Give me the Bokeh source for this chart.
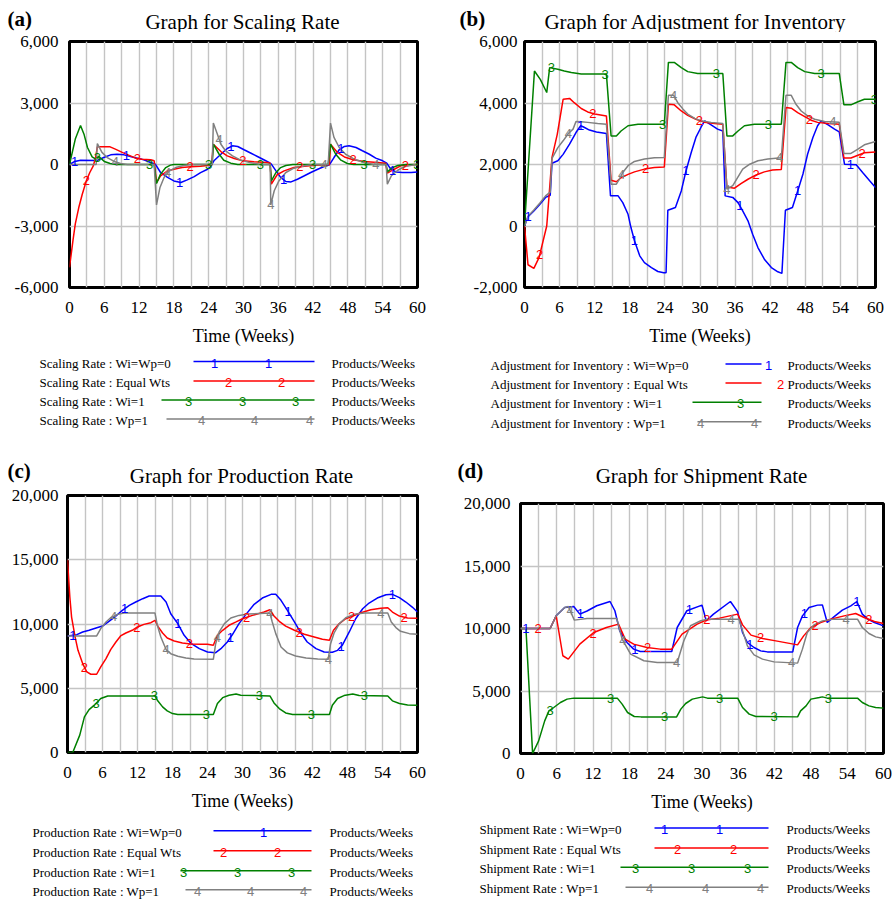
import numpy as np
from bokeh.plotting import figure
from bokeh.layouts import column, row
from bokeh.models import Range1d, FixedTicker, NumeralTickFormatter
from bokeh.core.properties import value
from bokeh.embed import file_html
from bokeh.resources import INLINE

# ---------------- data ----------------
SCENARIOS = ["Wi=Wp=0", "Equal Wts", "Wi=1", "Wp=1"]
MARK_LABELS = ["1", "2", "3", "4"]
UNIT = "Products/Weeks"
X_TICKS = [0, 6, 12, 18, 24, 30, 36, 42, 48, 54, 60]
X_GRID = [3, 6, 9, 12, 15, 18, 21, 24, 27, 30, 33, 36, 39, 42, 45, 48, 51, 54, 57]

# (a) Scaling Rate
SR_Y_TICKS = [-6000, -3000, 0, 3000, 6000]
SR_T1 = [0, 0.9, 1.9, 4.8, 5.9, 7.1, 8.2, 9.4, 10.5, 11.7, 12.8, 14.0, 14.8, 15.7, 16.9, 18.0, 19.2, 20.3, 21.5, 22.6, 23.8, 24.3, 24.9, 26.1, 27.2, 28.1, 29.0, 30.1, 31.3, 32.4, 33.5, 34.4, 34.8, 35.6, 36.4, 37.3, 38.2, 39.3, 40.5, 41.6, 42.8, 43.9, 44.8, 45.6, 46.5, 47.4, 48.2, 49.4, 50.5, 51.7, 52.8, 54.0, 54.7, 55.4, 56.3, 57.4, 58.9, 60.0]
SR_V1 = [0, 150, 210, 200, 340, 470, 500, 470, 390, 310, 230, 100, 15, -390, -630, -800, -880, -750, -590, -400, -230, -110, 180, 500, 780, 910, 880, 720, 550, 390, 230, 100, 15, -310, -630, -830, -850, -720, -550, -390, -230, -100, -15, 340, 720, 880, 910, 830, 670, 500, 310, 180, 65, -230, -360, -390, -390, -360]
SR_T2 = [0, 0.6, 1.0, 1.6, 2.2, 2.9, 3.5, 4.1, 4.5, 4.8, 7.0, 7.9, 9.1, 10.2, 11.4, 12.5, 14.0, 14.6, 15.0, 15.7, 16.9, 18.0, 19.4, 20.9, 22.6, 23.8, 24.5, 24.8, 26.1, 27.2, 28.4, 29.9, 31.8, 34.1, 34.6, 34.8, 35.8, 37.0, 38.7, 40.5, 42.8, 44.8, 45.0, 46.2, 47.4, 48.9, 50.8, 53.1, 54.5, 54.8, 56.0, 57.1, 58.6, 60.0]
SR_V2 = [-5020, -3700, -2900, -2100, -1450, -800, -390, -65, 340, 860, 860, 750, 590, 455, 310, 260, 230, 180, -880, -550, -310, -230, -150, -110, -80, -50, -30, 990, 630, 420, 290, 180, 130, 100, 65, -960, -500, -310, -150, -80, -30, -15, 990, 590, 370, 230, 150, 100, 65, -420, -230, -65, -15, 0]
SR_T3 = [0, 1.0, 1.9, 2.5, 3.1, 3.9, 4.6, 5.0, 6.0, 7.0, 8.0, 14.6, 15.0, 15.7, 16.6, 17.4, 18.0, 24.6, 24.8, 25.8, 26.6, 27.8, 29.0, 34.6, 34.8, 35.6, 36.4, 37.3, 38.5, 44.6, 45.0, 45.9, 46.8, 47.9, 49.0, 54.6, 54.8, 55.7, 56.6, 58.0, 60.0]
SR_V3 = [0, 1240, 1900, 1480, 830, 370, 250, 400, 150, 50, 0, 0, -930, -470, -150, -30, 0, 0, 990, 500, 210, 65, 0, 0, -800, -390, -150, -50, 0, 0, 990, 500, 210, 50, 0, 0, -360, -150, -50, 0, 0]
SR_T4 = [0, 4.6, 4.8, 5.6, 6.5, 7.7, 8.8, 10.0, 14.6, 15.0, 15.6, 16.3, 17.1, 18.3, 19.7, 21.0, 24.6, 24.8, 25.5, 26.1, 26.9, 28.1, 29.5, 31.3, 33.0, 34.6, 34.7, 35.3, 36.1, 37.3, 38.7, 40.5, 42.0, 44.6, 45.0, 45.6, 46.5, 47.6, 49.1, 50.8, 52.5, 54.6, 54.8, 55.5, 56.6, 57.7, 59.2, 60.0]
SR_V4 = [0, 0, 1020, 590, 340, 150, 50, 0, 0, -1970, -1120, -630, -340, -150, -50, 0, 0, 2020, 1480, 990, 670, 420, 210, 80, 0, 0, -1970, -1280, -800, -390, -180, -65, 0, 0, 2020, 1320, 830, 500, 260, 100, 0, 0, -960, -550, -280, -110, -30, 0]
SR_M1 = [0.9, 9.8, 19.0, 27.8, 36.9, 46.8, 55.7]
SR_M2 = [2.9, 11.7, 20.8, 29.9, 39.7, 48.9, 57.9]
SR_M3 = [4.8, 13.8, 24.0, 32.9, 41.9, 50.8, 59.9]
SR_M4 = [7.9, 16.9, 25.8, 34.7, 43.9, 52.8]

# (b) Adjustment for Inventory
AI_Y_TICKS = [-2000, 0, 2000, 4000, 6000]
AI_T1 = [0, 0.6, 1.6, 2.6, 3.6, 4.4, 4.7, 5.7, 6.6, 7.7, 8.8, 9.6, 10.1, 11.1, 12.3, 14.0, 14.7, 16.0, 16.8, 17.7, 18.2, 18.8, 19.7, 20.5, 21.7, 22.8, 23.8, 24.2, 24.5, 25.8, 26.8, 27.6, 28.5, 29.3, 30.2, 30.8, 31.9, 33.0, 33.9, 34.3, 35.6, 36.5, 37.3, 38.2, 39.0, 39.9, 41.0, 42.2, 43.3, 44.0, 44.6, 45.8, 46.7, 47.6, 48.4, 49.3, 50.1, 50.7, 51.9, 53.0, 53.8, 54.7, 56.7, 57.8, 59.0, 60.0]
AI_V1 = [0, 300, 490, 700, 930, 1000, 2040, 2120, 2330, 2660, 3040, 3260, 3220, 3120, 3060, 3010, 980, 980, 760, 380, -50, -480, -970, -1190, -1350, -1480, -1520, -1520, 510, 600, 1140, 1790, 2390, 2880, 3220, 3420, 3290, 3150, 3090, 980, 930, 760, 490, 170, -270, -700, -1080, -1350, -1490, -1540, 510, 600, 1140, 1690, 2340, 2880, 3260, 3420, 3290, 3150, 3060, 2010, 1990, 1740, 1470, 1250]
AI_T2 = [0, 0.6, 1.6, 2.5, 3.8, 4.7, 5.6, 6.6, 7.7, 8.5, 9.7, 10.8, 12.0, 14.0, 14.8, 15.7, 16.5, 17.7, 18.8, 20.5, 22.2, 23.9, 24.6, 25.6, 26.8, 27.9, 29.3, 30.8, 32.5, 33.9, 34.6, 35.9, 37.0, 38.2, 39.6, 41.0, 42.4, 43.9, 44.7, 45.6, 46.7, 47.9, 49.0, 50.1, 51.9, 53.8, 54.6, 55.8, 57.0, 58.1, 60.0]
AI_V2 = [0, -1260, -1380, -1020, 0, 2230, 2980, 4120, 4150, 4010, 3820, 3710, 3640, 3580, 1490, 1440, 1570, 1680, 1760, 1850, 1900, 1920, 3960, 3940, 3740, 3600, 3470, 3370, 3330, 3310, 1270, 1230, 1380, 1520, 1660, 1760, 1820, 1840, 3850, 3830, 3690, 3560, 3440, 3370, 3330, 3310, 2210, 2210, 2300, 2380, 2410]
AI_T3 = [0, 1.7, 2.7, 3.8, 4.3, 5.7, 6.8, 8.0, 9.7, 14.0, 14.8, 15.7, 16.5, 17.7, 19.4, 23.9, 24.6, 25.6, 26.8, 27.9, 29.6, 33.9, 34.6, 35.6, 36.5, 37.6, 39.3, 43.9, 44.7, 45.6, 46.7, 47.9, 49.6, 53.8, 54.6, 55.8, 57.0, 58.1, 60.0]
AI_V3 = [0, 5040, 4770, 4340, 5150, 5100, 5040, 4990, 4940, 4940, 2930, 2930, 3090, 3260, 3310, 3310, 5320, 5320, 5150, 5020, 4960, 4960, 2930, 2930, 3090, 3260, 3310, 3310, 5320, 5320, 5150, 5020, 4960, 4960, 3940, 3940, 4040, 4120, 4120]
AI_T4 = [0, 0.6, 1.6, 2.6, 3.6, 4.4, 4.7, 5.7, 6.6, 7.5, 8.3, 8.8, 9.7, 10.8, 12.5, 14.0, 14.8, 15.7, 16.2, 16.8, 17.7, 18.8, 20.5, 22.2, 23.9, 24.6, 25.5, 26.2, 27.1, 27.9, 29.1, 30.2, 31.9, 33.9, 34.6, 35.6, 36.5, 37.3, 38.5, 39.9, 41.6, 43.9, 44.7, 45.6, 46.4, 47.3, 48.4, 49.6, 51.3, 53.8, 54.6, 55.8, 57.0, 58.1, 60.0]
AI_V4 = [0, 320, 520, 740, 980, 1100, 2200, 2550, 2770, 3010, 3150, 3400, 3390, 3370, 3330, 3310, 1360, 1360, 1520, 1740, 1960, 2100, 2180, 2220, 2230, 4250, 4250, 4010, 3800, 3640, 3500, 3420, 3370, 3330, 1200, 1310, 1600, 1850, 2010, 2120, 2180, 2220, 4250, 4250, 3960, 3740, 3580, 3470, 3400, 3370, 2360, 2360, 2500, 2640, 2750]
AI_M1 = [0.6, 9.6, 18.8, 27.6, 36.8, 46.7, 55.7]
AI_M2 = [2.6, 11.7, 20.7, 29.9, 39.6, 48.7, 57.7]
AI_M3 = [4.6, 13.8, 23.6, 32.8, 41.7, 50.7, 59.8]
AI_M4 = [7.5, 16.6, 25.5, 34.6, 43.6, 52.7]

# (c) Production Rate
PR_Y_TICKS = [0, 5000, 10000, 15000, 20000]
PR_T1 = [0, 1.6, 2.6, 3.7, 4.9, 6.0, 7.1, 8.3, 9.4, 10.6, 11.7, 12.9, 14.0, 16.0, 16.9, 17.7, 18.9, 20.0, 21.1, 22.6, 24.0, 25.4, 26.3, 27.4, 28.3, 29.4, 30.6, 32.0, 33.4, 34.9, 35.7, 36.6, 37.7, 38.9, 40.0, 41.1, 42.6, 44.0, 45.4, 46.3, 47.1, 48.3, 49.4, 50.6, 51.7, 53.1, 54.6, 55.7, 56.9, 58.0, 59.1, 60.0]
PR_V1 = [9070, 9170, 9380, 9510, 9690, 9840, 10210, 10620, 11060, 11450, 11710, 11970, 12180, 12180, 11710, 10800, 10030, 9120, 8520, 8080, 7820, 7770, 8080, 8600, 9200, 10030, 10750, 11530, 12020, 12310, 12310, 11840, 11060, 10160, 9300, 8600, 8080, 7820, 7800, 7950, 8340, 9380, 10410, 11190, 11630, 12020, 12280, 12310, 12050, 11710, 11320, 10930]
PR_T2 = [0, 0.4, 0.7, 1.3, 1.8, 2.6, 3.3, 4.0, 5.0, 5.7, 6.6, 7.4, 8.3, 9.1, 10.0, 11.1, 12.0, 13.1, 14.3, 15.0, 15.5, 16.3, 17.1, 18.3, 19.7, 21.1, 22.9, 24.0, 25.0, 25.7, 26.6, 27.7, 28.9, 30.0, 31.7, 33.7, 34.7, 35.4, 36.3, 37.4, 38.9, 40.6, 42.3, 43.7, 44.9, 45.6, 46.6, 47.7, 48.9, 50.3, 52.0, 53.7, 54.9, 55.7, 56.9, 58.3, 60.0]
PR_V2 = [15000, 12100, 10540, 9000, 7950, 6920, 6270, 6090, 6090, 6660, 7310, 8010, 8600, 9070, 9300, 9510, 9770, 9970, 10100, 10290, 9820, 9300, 8910, 8680, 8520, 8450, 8420, 8420, 8340, 9120, 9510, 9900, 10160, 10410, 10670, 10930, 11110, 10620, 10210, 9840, 9510, 9200, 8990, 8810, 8730, 9510, 10030, 10410, 10620, 10880, 11110, 11220, 11270, 10930, 10620, 10470, 10440]
PR_T3 = [0, 0.9, 2.1, 2.9, 3.7, 4.7, 5.7, 6.9, 15.0, 15.4, 16.3, 17.1, 18.0, 18.9, 25.0, 25.7, 26.6, 27.7, 28.9, 29.7, 34.7, 35.4, 36.3, 37.4, 38.6, 44.9, 45.4, 46.3, 47.4, 48.9, 50.0, 54.9, 55.7, 56.9, 58.3, 60.0]
PR_V3 = [0, 0, 1350, 2770, 3340, 3730, 4200, 4400, 4400, 4070, 3550, 3240, 3030, 2950, 2950, 3810, 4270, 4460, 4560, 4460, 4400, 3860, 3420, 3080, 2950, 2950, 3680, 4200, 4430, 4560, 4430, 4400, 4020, 3810, 3700, 3680]
PR_T4 = [0, 5.0, 5.7, 6.6, 7.4, 8.6, 9.7, 15.0, 15.4, 16.0, 16.9, 17.7, 18.9, 20.3, 21.7, 25.0, 25.4, 26.0, 26.9, 28.0, 29.4, 30.9, 34.7, 35.1, 35.7, 36.6, 37.7, 39.1, 40.9, 42.9, 44.7, 45.1, 45.7, 46.6, 47.7, 49.1, 50.9, 54.9, 55.5, 56.3, 57.1, 58.6, 60.0]
PR_V4 = [9070, 9070, 9640, 10160, 10490, 10750, 10850, 10850, 9900, 8990, 8010, 7690, 7490, 7360, 7280, 7250, 8470, 9380, 10030, 10470, 10670, 10780, 10850, 10160, 9250, 8210, 7750, 7510, 7360, 7280, 7250, 8470, 9300, 10030, 10490, 10750, 10850, 10850, 10160, 9720, 9430, 9250, 9200]
PR_M1 = [0.9, 9.8, 18.9, 27.9, 37.8, 46.9, 55.7]
PR_M2 = [2.9, 11.9, 20.9, 30.7, 39.7, 48.7, 57.7]
PR_M3 = [4.9, 14.9, 23.8, 32.9, 41.8, 50.9]
PR_M4 = [7.9, 16.9, 25.7, 34.7, 44.7, 53.7]

# (d) Shipment Rate
SH_Y_TICKS = [0, 5000, 10000, 15000, 20000]
SH_T1 = [0, 4.9, 5.9, 7.3, 8.8, 9.8, 11.0, 12.6, 14.8, 15.6, 16.4, 17.6, 18.7, 19.8, 25.0, 25.9, 27.5, 30.0, 30.7, 31.9, 34.7, 35.9, 36.7, 37.5, 38.6, 39.7, 40.8, 45.0, 45.8, 46.6, 47.7, 49.1, 49.9, 50.7, 51.8, 53.2, 54.6, 55.6, 56.5, 57.4, 58.5, 60.0]
SH_V1 = [10000, 10000, 11020, 11680, 11760, 11150, 11400, 11820, 12160, 11420, 9820, 8880, 8350, 8160, 8160, 10080, 11420, 11870, 10620, 11150, 12160, 11330, 9680, 8880, 8480, 8210, 8130, 8130, 10080, 11010, 11680, 11870, 11890, 10480, 10930, 11470, 11810, 12160, 11150, 10750, 10480, 10210]
SH_T2 = [0, 4.9, 5.9, 7.0, 7.9, 9.8, 12.1, 14.2, 16.2, 17.3, 18.7, 20.9, 23.1, 25.0, 26.7, 29.2, 30.7, 32.9, 35.9, 36.7, 38.1, 40.0, 42.2, 45.8, 46.8, 48.0, 49.6, 51.3, 53.5, 55.4, 56.8, 58.5, 60.0]
SH_V2 = [10000, 10000, 11020, 7820, 7550, 8750, 9680, 10080, 10350, 9150, 8750, 8480, 8350, 8350, 9550, 10350, 10680, 10830, 11150, 10290, 9470, 9200, 9010, 8690, 9410, 10080, 10480, 10750, 11010, 11200, 10880, 10560, 10400]
SH_T3 = [0, 0.9, 2.0, 3.0, 4.0, 4.7, 5.5, 6.6, 7.7, 8.8, 16.0, 16.8, 17.7, 18.8, 19.9, 25.8, 26.5, 27.3, 28.4, 30.1, 30.9, 35.9, 36.7, 37.8, 38.9, 45.8, 46.3, 47.2, 48.0, 49.4, 49.9, 50.7, 55.7, 56.5, 57.6, 58.7, 60.0]
SH_V3 = [10000, 10000, 0, 1010, 2610, 3410, 3680, 4080, 4350, 4430, 4430, 3950, 3280, 2960, 2930, 2930, 3550, 4000, 4350, 4530, 4430, 4430, 3680, 3150, 2960, 2930, 3410, 3810, 4350, 4480, 4530, 4430, 4430, 4080, 3810, 3680, 3630]
SH_T4 = [0, 4.9, 5.9, 7.3, 7.9, 8.9, 11.0, 15.9, 16.8, 18.2, 20.4, 22.6, 25.9, 27.0, 28.1, 29.8, 30.9, 36.1, 37.5, 38.6, 40.0, 41.9, 45.8, 46.6, 47.4, 48.5, 49.9, 51.8, 55.7, 56.5, 57.6, 58.7, 60.0]
SH_V4 = [10000, 10000, 11020, 11680, 11760, 10670, 10800, 10800, 9150, 7950, 7420, 7280, 7280, 9020, 10220, 10620, 10750, 10750, 8610, 7890, 7550, 7330, 7230, 8350, 9680, 10290, 10610, 10750, 10750, 10080, 9600, 9330, 9200]
SH_M1 = [0.9, 9.9, 18.9, 27.9, 37.9, 46.9, 55.6]
SH_M2 = [2.9, 12.0, 21.0, 30.8, 39.7, 48.7, 57.6]
SH_M3 = [4.9, 14.9, 23.8, 32.9, 41.9, 50.9]
SH_M4 = [8.2, 16.9, 25.8, 34.8, 44.8, 53.8]

# ---------------- styling ----------------
SERIF = "Liberation Serif"
SANS = "Liberation Sans"
COLORS = ["#0000ff", "#ff0000", "#008000", "#808080"]
W = 447


def no_align(f):
    try:
        f.frame_align = False
    except Exception:
        pass
    return f


def blank(width, height):
    f = figure(width=width, height=height, x_range=Range1d(0, width), y_range=Range1d(height, 0),
               x_axis_type=None, y_axis_type=None, output_backend="svg", toolbar_location=None,
               min_border=0)
    f.grid.visible = False
    f.outline_line_color = None
    if f.title is not None:
        f.title.visible = False
    return no_align(f)


def header(height, tag, tag_x, tag_y, title, title_x, title_y):
    f = blank(W, height)
    f.text(x=[tag_x], y=[tag_y], text=[tag], text_font=value(SERIF), text_font_size="21px",
           text_font_style="bold", text_baseline="middle", text_align="left", text_color="black")
    f.text(x=[title_x], y=[title_y], text=[title], text_font=value(SERIF), text_font_size="21px",
           text_baseline="middle", text_align="center", text_color="black")
    return f


def make_plot(height, bl, br, bt, bb, yticks, series, marks, standoff):
    p = figure(width=W, height=height, x_range=Range1d(0, 60), y_range=Range1d(yticks[0], yticks[-1]),
               output_backend="svg", toolbar_location=None,
               min_border_left=bl, min_border_right=br, min_border_top=bt, min_border_bottom=bb)
    no_align(p)
    if p.title is not None:
        p.title.visible = False
    p.outline_line_color = "black"
    p.outline_line_width = 3
    p.background_fill_color = "white"
    p.xaxis.ticker = FixedTicker(ticks=X_TICKS)
    p.yaxis.ticker = FixedTicker(ticks=yticks)
    p.xgrid.ticker = FixedTicker(ticks=X_GRID)
    p.ygrid.ticker = FixedTicker(ticks=yticks)
    p.grid.grid_line_color = "#c4c4c4"
    p.grid.grid_line_width = 1.4
    p.yaxis.formatter = NumeralTickFormatter(format="0,0")
    for ax in (p.xaxis, p.yaxis):
        ax.axis_line_color = None
        ax.major_tick_line_color = None
        ax.minor_tick_line_color = None
        ax.major_tick_in = 0
        ax.major_tick_out = 0
        ax.minor_tick_in = 0
        ax.minor_tick_out = 0
        ax.major_label_text_font = SERIF
        ax.major_label_text_font_size = "17px"
        ax.major_label_text_color = "black"
    p.yaxis.major_label_standoff = standoff
    p.xaxis.major_label_standoff = 14
    p.xaxis.axis_label = "Time (Weeks)"
    p.xaxis.axis_label_text_font = SERIF
    p.xaxis.axis_label_text_font_size = "18px"
    p.xaxis.axis_label_text_font_style = "normal"
    p.xaxis.axis_label_text_color = "black"
    p.xaxis.axis_label_standoff = 10

    for (t, v), c in zip(series, COLORS):
        p.line(t, v, line_color=c, line_width=1.5)
    for (t, v), m, c, lab in zip(series, marks, COLORS, MARK_LABELS):
        my = np.interp(m, t, v)
        p.text(x=m, y=list(my), text=[lab] * len(m), text_font=value(SANS), text_font_size="13px",
               text_align="center", text_baseline="middle", text_color=c)
    return p


def legend(height, var, text_x, unit_x, rows_y, line_end, line_start, nums):
    f = blank(W, height)
    labels = [f"{var} : {s}" for s in SCENARIOS]
    f.text(x=[text_x] * 4, y=rows_y, text=labels, text_font=value(SERIF), text_font_size="13px",
           text_baseline="middle", text_align="left", text_color="black")
    f.text(x=[unit_x] * 4, y=rows_y, text=[UNIT] * 4, text_font=value(SERIF), text_font_size="13px",
           text_baseline="middle", text_align="left", text_color="black")
    for i in range(4):
        ly = rows_y[i] - 1.5
        f.segment(x0=[line_start[i]], y0=[ly], x1=[line_end], y1=[ly], line_color=COLORS[i], line_width=1.6)
        f.text(x=nums[i], y=[rows_y[i]] * len(nums[i]), text=[MARK_LABELS[i]] * len(nums[i]),
               text_font=value(SANS), text_font_size="13px", text_align="center",
               text_baseline="middle", text_color=COLORS[i])
    return f


# ---------------- panels ----------------
pa = column(
    header(32, "(a)", 7, 18.5, "Graph for Scaling Rate", 242, 21),
    make_plot(321, 69, 30, 9, 66, SR_Y_TICKS,
              [(SR_T1, SR_V1), (SR_T2, SR_V2), (SR_T3, SR_V3), (SR_T4, SR_V4)],
              [SR_M1, SR_M2, SR_M3, SR_M4], 11),
    legend(97, "Scaling Rate", 39, 331, [9.5, 29, 48, 67], 314, [193, 193, 161, 166],
           [[214, 268], [228, 281], [188, 242, 295], [201, 254, 309]]),
)
pb = column(
    header(32, "(b)", 12, 18.5, "Graph for Adjustment for Inventory", 248, 21),
    make_plot(321, 77, 19, 9, 66, AI_Y_TICKS,
              [(AI_T1, AI_V1), (AI_T2, AI_V2), (AI_T3, AI_V3), (AI_T4, AI_V4)],
              [AI_M1, AI_M2, AI_M3, AI_M4], 7),
    legend(97, "Adjustment for Inventory", 43, 340, [12, 31, 50.3, 69.7], 314, [278, 278, 245, 250],
           [[321], [333], [293], [253, 307]]),
)
pc = column(
    header(37, "(c)", 7, 20.7, "Graph for Production Rate", 241, 25),
    make_plot(329, 67, 30, 8, 64, PR_Y_TICKS,
              [(PR_T1, PR_V1), (PR_T2, PR_V2), (PR_T3, PR_V3), (PR_T4, PR_V4)],
              [PR_M1, PR_M2, PR_M3, PR_M4], 9),
    legend(85, "Production Rate", 32, 329, [15.7, 35.7, 55.7, 74.7], 311, [213, 213, 180, 185],
           [[263], [223, 277], [183, 237, 291], [197, 250, 303]]),
)
pd_ = column(
    header(37, "(d)", 10, 20.7, "Graph for Shipment Rate", 254, 25),
    make_plot(329, 73, 11, 16, 63, SH_Y_TICKS,
              [(SH_T1, SH_V1), (SH_T2, SH_V2), (SH_T3, SH_V3), (SH_T4, SH_V4)],
              [SH_M1, SH_M2, SH_M3, SH_M4], 10),
    legend(85, "Shipment Rate", 32, 339, [13, 33, 52.3, 72.3], 321, [207, 207, 173, 178],
           [[217, 272], [230, 286], [188, 244, 300], [202, 258, 313]]),
)

layout = column(row(pa, pb), row(pc, pd_))
open("out.html", "w").write(file_html(layout, INLINE))
